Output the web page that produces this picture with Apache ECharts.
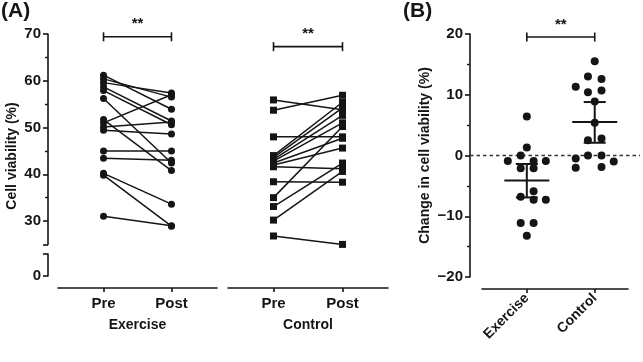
<!DOCTYPE html>
<html><head><meta charset="utf-8">
<script src="https://cdn.jsdelivr.net/npm/echarts@6/dist/echarts.min.js"></script>
<style>html,body{margin:0;padding:0;background:#fff}#c{width:643px;height:362px}</style>
</head><body><div id="c"></div>
<script>
// ---------- data ----------
const timeLabels = ['Pre', 'Post'];
const groupNames = ['Exercise', 'Control'];

const exercisePre  = [61.2, 60.4, 59.6, 58.7, 57.9, 56.2, 51.7, 51.0, 50.1, 49.4, 45.0, 43.4, 40.2, 39.8, 31.0];
const exercisePost = [53.9, 56.5, 57.4, 51.4, 50.6, 42.4, 40.8, 57.0, 51.2, 48.6, 45.0, 43.0, 33.6, 28.9, 29.0];

const controlPre  = [55.9, 53.7, 48.0, 44.0, 43.6, 43.2, 42.8, 42.4, 42.0, 41.6, 38.4, 35.0, 33.1, 30.2, 26.8];
const controlPost = [53.8, 56.9, 48.0, 55.4, 54.2, 52.6, 51.0, 47.7, 45.6, 41.2, 38.3, 50.2, 42.4, 40.6, 25.0];

const exerciseChange = [6.4, 1.3, 0.0, -0.9, -0.9, -0.9, -2.1, -2.1, -5.9, -6.8, -7.3, -7.3, -11.1, -11.1, -13.2];
const exerciseJitter = [0, 0, -0.09, -0.28, 0.1, 0.28, -0.09, 0.1, 0.1, -0.09, 0.1, 0.28, -0.09, 0.1, 0];
const controlChange = [15.5, 13.0, 12.6, 11.3, 10.4, 10.7, 8.9, 5.4, 2.5, 2.8, -0.5, 0.0, 0.0, -1.0, -2.0, -1.9];
const controlJitter = [0, -0.1, 0.1, -0.28, -0.1, 0.1, 0, 0, -0.1, 0.1, -0.28, -0.1, 0.1, 0.28, -0.28, 0.1];

const changeMean = [-4.1, 5.5];
const changeCILow = [-6.9, 2.1];
const changeCIHigh = [-1.4, 8.8];

const yTicksA = [25, 30, 40, 50, 60, 70];
const yLabelsA = [30, 40, 50, 60, 70];
const yMinorA = [35, 45, 55, 65];
const yTicksALow = [0, 5];
const yLabelsALow = [0];
const yTicksB = [-20, -10, 0, 10, 20];
const yMinorB = [-15, -5, 5, 15];

// ---------- styles ----------
const FONT = '"Liberation Sans", Arial, Helvetica, sans-serif';
const INK = '#151515';
const labelStyle = {color: INK, fontFamily: FONT, fontWeight: 'bold', fontSize: 15};
const axisLineStyle = {show: true, onZero: false, lineStyle: {color: INK, width: 1.6}};

function yAxisMain(grid, min, max, ticks, labels, offset, extra) {
  return Object.assign({
    type: 'value', gridIndex: grid, position: 'left', min: min, max: max, offset: offset,
    axisLine: axisLineStyle,
    axisTick: {show: true, length: 5, customValues: ticks, lineStyle: {color: INK, width: 1.6}},
    axisLabel: Object.assign({show: true, margin: 7, customValues: labels}, labelStyle),
    splitLine: {show: false}
  }, extra || {});
}
function yAxisMinor(grid, min, max, ticks, offset) {
  return {
    type: 'value', gridIndex: grid, position: 'left', min: min, max: max, offset: offset,
    axisLine: {show: false, onZero: false},
    axisTick: {show: true, length: 3, customValues: ticks, lineStyle: {color: INK, width: 1.4}},
    axisLabel: {show: false}, splitLine: {show: false}
  };
}
function xAxisPair(grid, min, max, name, offset) {
  return {
    type: 'value', gridIndex: grid, position: 'bottom', min: min, max: max, offset: offset,
    axisLine: axisLineStyle,
    axisTick: {show: true, length: 4, customValues: [0, 1], lineStyle: {color: INK, width: 1.6}},
    axisLabel: Object.assign({show: true, margin: 8, customValues: [0, 1],
      formatter: v => timeLabels[Math.round(v)]}, labelStyle),
    splitLine: {show: false},
    name: name, nameLocation: 'middle', nameGap: 30,
    nameTextStyle: {color: INK, fontFamily: FONT, fontWeight: 'bold', fontSize: 14}
  };
}

const series = [];
// Panel A: paired lines
exercisePre.forEach((v, i) => {
  series.push({
    type: 'line', xAxisIndex: 0, yAxisIndex: 0, silent: true, animation: false,
    data: [[0, v], [1, exercisePost[i]]],
    symbol: 'circle', symbolSize: 7, showSymbol: true,
    lineStyle: {color: INK, width: 1.5}, itemStyle: {color: INK, opacity: 1}
  });
});
controlPre.forEach((v, i) => {
  series.push({
    type: 'line', xAxisIndex: 2, yAxisIndex: 4, silent: true, animation: false,
    data: [[0, v], [1, controlPost[i]]],
    symbol: 'rect', symbolSize: 7, showSymbol: true,
    lineStyle: {color: INK, width: 1.5}, itemStyle: {color: INK, opacity: 1}
  });
});

// significance brackets
function bracketSeries(xi, yi, level) {
  return {
    type: 'custom', xAxisIndex: xi, yAxisIndex: yi, silent: true, animation: false, clip: false,
    data: [[0, 1, level]],
    renderItem: function (params, api) {
      const a = api.coord([api.value(0), api.value(2)]);
      const b = api.coord([api.value(1), api.value(2)]);
      const st = {stroke: INK, lineWidth: 1.6};
      return {type: 'group', children: [
        {type: 'line', shape: {x1: a[0], y1: a[1], x2: b[0], y2: b[1]}, style: st},
        {type: 'line', shape: {x1: a[0], y1: a[1] - 4.5, x2: a[0], y2: a[1] + 4.5}, style: st},
        {type: 'line', shape: {x1: b[0], y1: b[1] - 4.5, x2: b[0], y2: b[1] + 4.5}, style: st},
        {type: 'text', style: {text: '**', x: (a[0] + b[0]) / 2, y: a[1] - 5,
          align: 'center', verticalAlign: 'bottom', textAlign: 'center', textVerticalAlign: 'bottom',
          font: 'bold 15px ' + FONT, fill: INK}}
      ]};
    }
  };
}
series.push(bracketSeries(0, 0, 69.4));
series.push(bracketSeries(2, 4, 67.3));

// Panel B: zero reference line
series.push({
  type: 'custom', xAxisIndex: 3, yAxisIndex: 5, silent: true, animation: false, clip: false, z: 1,
  data: [[0, 0]],
  renderItem: function (params, api) {
    const p = api.coord([0, api.value(1)]);
    const cs = params.coordSys;
    return {type: 'line', shape: {x1: cs.x - 12, y1: p[1], x2: cs.x + cs.width + 12, y2: p[1]},
      style: {stroke: '#333', lineWidth: 1.5, lineDash: [3.5, 3]}};
  }
});
// Panel B: dots
series.push({
  type: 'scatter', xAxisIndex: 3, yAxisIndex: 5, silent: true, animation: false, z: 3,
  symbol: 'circle', symbolSize: 8, itemStyle: {color: INK, opacity: 1},
  data: exerciseChange.map((v, i) => [0 + exerciseJitter[i], v])
});
series.push({
  type: 'scatter', xAxisIndex: 3, yAxisIndex: 5, silent: true, animation: false, z: 3,
  symbol: 'circle', symbolSize: 8, itemStyle: {color: INK, opacity: 1},
  data: controlChange.map((v, i) => [1 + controlJitter[i], v])
});
// Panel B: mean and 95% CI
series.push({
  type: 'custom', xAxisIndex: 3, yAxisIndex: 5, silent: true, animation: false, z: 4,
  data: changeMean.map((m, i) => [i, m, changeCILow[i], changeCIHigh[i]]),
  renderItem: function (params, api) {
    const m = api.coord([api.value(0), api.value(1)]);
    const lo = api.coord([api.value(0), api.value(2)]);
    const hi = api.coord([api.value(0), api.value(3)]);
    const st = {stroke: INK, lineWidth: 2};
    return {type: 'group', children: [
      {type: 'line', shape: {x1: m[0] - 22.5, y1: m[1], x2: m[0] + 22.5, y2: m[1]}, style: st},
      {type: 'line', shape: {x1: lo[0], y1: lo[1], x2: hi[0], y2: hi[1]}, style: st},
      {type: 'line', shape: {x1: lo[0] - 11, y1: lo[1], x2: lo[0] + 11, y2: lo[1]}, style: st},
      {type: 'line', shape: {x1: hi[0] - 11, y1: hi[1], x2: hi[0] + 11, y2: hi[1]}, style: st}
    ]};
  }
});
series.push(bracketSeries(3, 5, 19.5));

const option = {
  backgroundColor: '#ffffff',
  animation: false,
  grid: [
    {left: 58, top: 34, width: 159, height: 210.4},
    {left: 58, top: 254, width: 159, height: 22},
    {left: 228, top: 34, width: 160, height: 210.4},
    {left: 482, top: 34, width: 146, height: 243}
  ],
  xAxis: [
    xAxisPair(0, -0.67, 1.67, groupNames[0], 43.6),
    {type: 'value', gridIndex: 1, min: -0.67, max: 1.67, show: false},
    xAxisPair(2, -0.66, 1.66, groupNames[1], 43.6),
    {
      type: 'value', gridIndex: 3, position: 'bottom', min: -0.66, max: 1.49, offset: 12,
      axisLine: axisLineStyle,
      axisTick: {show: true, length: 4, customValues: [0, 1], lineStyle: {color: INK, width: 1.6}},
      axisLabel: Object.assign({show: true, margin: 7, rotate: 45, customValues: [0, 1],
        formatter: v => groupNames[Math.round(v)]}, labelStyle, {fontSize: 14}),
      splitLine: {show: false}
    }
  ],
  yAxis: [
    yAxisMain(0, 25, 70, yTicksA, yLabelsA, 10),
    yAxisMinor(0, 25, 70, yMinorA, 10),
    yAxisMain(1, 0, 5, yTicksALow, yLabelsALow, 10),
    yAxisMinor(1, 0, 5, [], 10),
    {type: 'value', gridIndex: 2, min: 25, max: 70, show: false},
    yAxisMain(3, -20, 20, yTicksB, yTicksB, 12, {
      axisLabel: Object.assign({show: true, margin: 7, customValues: yTicksB,
        formatter: v => String(v).replace('-', '\u2212')}, labelStyle),
      name: 'Change in cell viability (%)', nameLocation: 'middle', nameGap: 38,
      nameTextStyle: {color: INK, fontFamily: FONT, fontWeight: 'bold', fontSize: 14}
    }),
    yAxisMinor(3, -20, 20, yMinorB, 12)
  ],
  graphic: [
    {type: 'text', x: 1, y: 1, style: {text: '(A)', font: 'bold 21px ' + FONT, fill: INK}},
    {type: 'text', x: 403, y: 1, style: {text: '(B)', font: 'bold 21px ' + FONT, fill: INK}},
    {type: 'text', x: 12, y: 156, rotation: Math.PI / 2,
      style: {text: 'Cell viability (%)', x: 0, y: 0, align: 'center', verticalAlign: 'middle',
        textAlign: 'center', textVerticalAlign: 'middle', font: 'bold 14px ' + FONT, fill: INK}}
  ],
  series: series
};
const chart = echarts.init(document.getElementById('c'), null, {renderer: 'canvas'});
chart.setOption(option);
</script>
</body></html>
